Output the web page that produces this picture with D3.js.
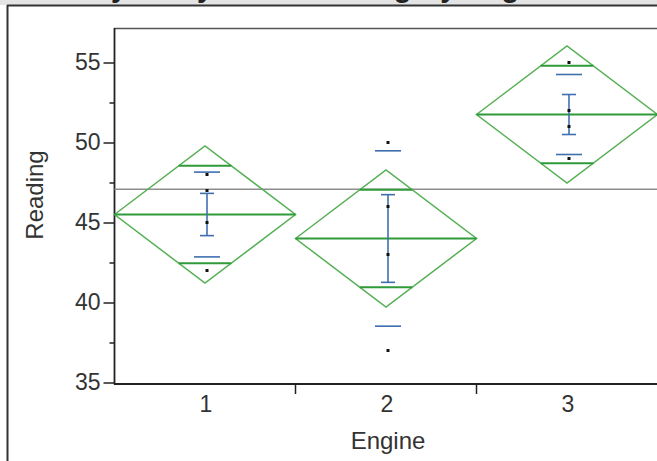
<!DOCTYPE html>
<html><head><meta charset="utf-8">
<script src="https://cdn.jsdelivr.net/npm/d3@7/dist/d3.min.js"></script>
<style>body{margin:0;background:#fff;} svg{display:block;font-family:"Liberation Sans",Arial,sans-serif;}</style>
</head><body>
<svg id="c" width="657" height="461"></svg>
<script>
const engines = ["1", "2", "3"];
const engine1Readings = [48, 47, 45, 42];
const engine2Readings = [50, 46, 43, 37];
const engine3Readings = [55, 52, 51, 49];
const groupMeans = [45.5, 44.0, 51.75];
const ciHalfWidth = [4.29, 4.29, 4.29];
const overlapHalf = [3.04, 3.04, 3.04];
const stdErrors = [1.32, 2.74, 1.25];
const stdDevs = [2.65, 5.48, 2.50];
const grandMean = 47.08;
const yTicks = [35, 40, 45, 50, 55];
const yMinorTicks = [37.5, 42.5, 47.5, 52.5];
const title = "Oneway Analysis of Reading By Engine";

const readings = [engine1Readings, engine2Readings, engine3Readings];
const svg = d3.select("#c");

// top band + title (cut off at the top edge, as in the reference)
svg.append("rect").attr("x",0).attr("y",0).attr("width",657).attr("height",5).attr("fill","#e4e4e4");
svg.append("text").attr("x",16).attr("y",-3).attr("font-size",29).attr("font-weight","bold")
  .attr("fill","#222").text(title);
// outer frame
svg.append("line").attr("x1",7).attr("x2",657).attr("y1",5.5).attr("y2",5.5).attr("stroke","#333").attr("stroke-width",2);
svg.append("line").attr("x1",7.5).attr("x2",7.5).attr("y1",5).attr("y2",461).attr("stroke","#333").attr("stroke-width",2);

const x = d3.scaleBand().domain(engines).range([114.5, 657.5]).paddingInner(0).paddingOuter(0);
const y = d3.scaleLinear().domain([35, 55]).range([382.5, 62.5]);

// plot top border
svg.append("line").attr("x1",114).attr("x2",657).attr("y1",28.5).attr("y2",28.5).attr("stroke","#555").attr("stroke-width",1.5);

// y axis
const yAxis = svg.append("g").attr("transform","translate(114.5,0)")
  .call(d3.axisLeft(y).tickValues(yTicks).tickSize(11).tickPadding(3).tickFormat(d3.format("d")));
yAxis.select(".domain").remove();
yAxis.selectAll(".tick line").attr("stroke","#222").attr("stroke-width",1.5);
yAxis.selectAll(".tick text").attr("font-size",23).attr("fill","#333").attr("font-family","Liberation Sans, Arial, sans-serif");
const yMinor = svg.append("g").attr("transform","translate(114.5,0)")
  .call(d3.axisLeft(y).tickValues(yMinorTicks).tickSize(5).tickFormat(""));
yMinor.select(".domain").remove();
yMinor.selectAll(".tick line").attr("stroke","#222").attr("stroke-width",1.5);
svg.append("line").attr("x1",114.5).attr("x2",114.5).attr("y1",28).attr("y2",384.5).attr("stroke","#222").attr("stroke-width",1.8);

// x axis
svg.append("line").attr("x1",114).attr("x2",657).attr("y1",384).attr("y2",384).attr("stroke","#222").attr("stroke-width",1.8);
const boundaries = engines.slice(1).map(e => x(e));
svg.selectAll(".xt").data(boundaries).enter().append("line")
  .attr("x1",d=>d).attr("x2",d=>d).attr("y1",384).attr("y2",394).attr("stroke","#222").attr("stroke-width",1.5);
svg.selectAll(".xl").data(engines).enter().append("text")
  .attr("x",d=>x(d)+x.bandwidth()/2 + 1).attr("y",412).attr("text-anchor","middle")
  .attr("font-size",23).attr("fill","#333").text(d=>d);

// axis titles
svg.append("text").attr("x",388).attr("y",449).attr("text-anchor","middle").attr("font-size",24).attr("fill","#333").text("Engine");
svg.append("text").attr("transform","translate(43,195) rotate(-90)").attr("text-anchor","middle").attr("font-size",24).attr("fill","#333").text("Reading");

// grand mean line
svg.append("line").attr("x1",114.5).attr("x2",657).attr("y1",y(grandMean)).attr("y2",y(grandMean))
  .attr("stroke","#8e8e8e").attr("stroke-width",1.6);

const green = "#55b055", greenDark = "#2f9a3a", blue = "#3f6fb0";

engines.forEach((e, i) => {
  const x0 = x(e), x1 = x(e) + x.bandwidth(), cx = (x0 + x1) / 2;
  const m = groupMeans[i], h = ciHalfWidth[i];
  // diamond
  const pts = [[x0, y(m)], [cx, y(m + h)], [x1, y(m)], [cx, y(m - h)]];
  svg.append("polygon").attr("points", pts.map(p => p.join(",")).join(" "))
    .attr("fill","none").attr("stroke",green).attr("stroke-width",1.5);
  // mean line
  svg.append("line").attr("x1",x0).attr("x2",x1).attr("y1",y(m)).attr("y2",y(m)).attr("stroke",greenDark).attr("stroke-width",2);
  // overlap marks
  [m + overlapHalf[i], m - overlapHalf[i]].forEach(v => {
    const frac = Math.abs(v - m) / h;
    const hw = (1 - frac) * (x1 - x0) / 2;
    svg.append("line").attr("x1",cx - hw).attr("x2",cx + hw).attr("y1",y(v)).attr("y2",y(v))
      .attr("stroke",greenDark).attr("stroke-width",2);
  });
  // std error I-beam
  const bx = cx + 2;
  svg.append("line").attr("x1",bx).attr("x2",bx).attr("y1",y(m + stdErrors[i])).attr("y2",y(m - stdErrors[i])).attr("stroke",blue).attr("stroke-width",1.6);
  [m + stdErrors[i], m - stdErrors[i]].forEach(v => {
    svg.append("line").attr("x1",bx - 7).attr("x2",bx + 7).attr("y1",y(v)).attr("y2",y(v)).attr("stroke",blue).attr("stroke-width",1.6);
  });
  // std dev dashes
  [m + stdDevs[i], m - stdDevs[i]].forEach(v => {
    svg.append("line").attr("x1",bx - 13).attr("x2",bx + 13).attr("y1",y(v)).attr("y2",y(v)).attr("stroke",blue).attr("stroke-width",1.6);
  });
  // points
  svg.selectAll(null).data(readings[i]).enter().append("rect")
    .attr("x", bx - 1.5).attr("y", d => y(d) - 1.5).attr("width",3).attr("height",3).attr("fill","#111");
});
</script>
</body></html>
